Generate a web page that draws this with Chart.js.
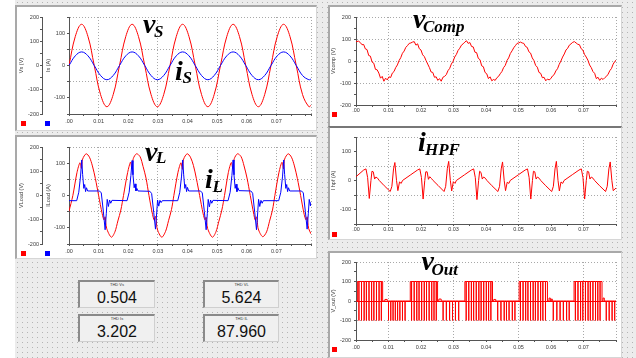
<!DOCTYPE html>
<html><head><meta charset="utf-8">
<script src="https://cdn.jsdelivr.net/npm/chart.js@4.4.1/dist/chart.umd.min.js"></script>
<style>
html,body{margin:0;padding:0}
body{width:636px;height:358px;position:relative;overflow:hidden;background:#ececec;font-family:'Liberation Sans',Arial,sans-serif}
#bg{position:absolute;left:15px;top:0;width:621px;height:358px}
.strip{position:absolute;left:0;top:0;width:15px;height:358px;background:#fff}
.frame{position:absolute;background:#fff;box-sizing:border-box;border-left:2px solid #a9a9a9;border-top:2px solid #a9a9a9;border-right:1px solid #d6d6d6;border-bottom:1px solid #d6d6d6}
canvas{position:absolute}
.sq{position:absolute;width:5px;height:5px}
.thd{position:absolute;height:28px;box-sizing:border-box;background:#f0f0f0;border-top:2px solid #8a8a8a;border-left:2px solid #8a8a8a;border-right:1px solid #cfcfcf;border-bottom:1px solid #cfcfcf}
.thd .cap{position:absolute;left:0;right:0;top:0;text-align:center;font-size:4px;color:#333;line-height:5px}
.thd .val{position:absolute;left:0;right:0;top:7px;text-align:center;font-size:16px;color:#111;line-height:18px}
.lbl{position:absolute;font-family:'Liberation Serif','Times New Roman',serif;font-style:italic;font-weight:bold;color:#000;line-height:1;white-space:nowrap}
</style></head>
<body>
<div id="bg"></div>
<div class="strip"></div>

<div class="frame" style="left:15px;top:5px;width:302px;height:126px"></div>
<div class="frame" style="left:15px;top:135px;width:302px;height:124px"></div>
<div class="frame" style="left:328px;top:5px;width:294px;height:122px"></div>
<div class="frame" style="left:328px;top:126px;width:294px;height:114px;border-top-color:#777"></div>
<div class="frame" style="left:328px;top:251px;width:294px;height:107px"></div>

<canvas id="c1" width="299" height="123" style="left:17px;top:7px"></canvas>
<canvas id="c2" width="299" height="123" style="left:17px;top:137px"></canvas>
<canvas id="c3" width="290" height="117" style="left:330px;top:8px"></canvas>
<canvas id="c4" width="290" height="110" style="left:330px;top:129px"></canvas>
<canvas id="c5" width="290" height="103" style="left:330px;top:253px"></canvas>

<div class="sq" style="left:21px;top:121px;background:#f00"></div>
<div class="sq" style="left:45px;top:121px;background:#00f"></div>
<div class="sq" style="left:21px;top:251px;background:#f00"></div>
<div class="sq" style="left:45px;top:251px;background:#00f"></div>
<div class="sq" style="left:332px;top:112px;background:#f00"></div>
<div class="sq" style="left:332px;top:232px;background:#f00"></div>
<div class="sq" style="left:332px;top:347px;background:#f00"></div>

<div class="thd" style="left:78px;top:280px;width:77px"><div class="cap">THD Vs</div><div class="val">0.504</div></div>
<div class="thd" style="left:78px;top:314px;width:77px"><div class="cap">THD Is</div><div class="val">3.202</div></div>
<div class="thd" style="left:203px;top:280px;width:76px"><div class="cap">THD VL</div><div class="val">5.624</div></div>
<div class="thd" style="left:203px;top:314px;width:76px"><div class="cap">THD IL</div><div class="val">87.960</div></div>

<div class="lbl" style="left:143px;top:9.9px;font-size:28px">v</div>
<div class="lbl" style="left:154px;top:23.1px;font-size:17px">S</div>
<div class="lbl" style="left:175px;top:56.6px;font-size:28px">i</div>
<div class="lbl" style="left:182.5px;top:69.1px;font-size:17px">S</div>
<div class="lbl" style="left:145px;top:138.3px;font-size:28px">v</div>
<div class="lbl" style="left:156px;top:149.1px;font-size:17px">L</div>
<div class="lbl" style="left:205px;top:164.9px;font-size:28px">i</div>
<div class="lbl" style="left:212.5px;top:177.5px;font-size:17px">L</div>
<div class="lbl" style="left:413px;top:4.9px;font-size:28px">v</div>
<div class="lbl" style="left:423px;top:17.8px;font-size:17px">Comp</div>
<div class="lbl" style="left:418px;top:128.3px;font-size:28px">i</div>
<div class="lbl" style="left:425px;top:140.8px;font-size:17px">HPF</div>
<div class="lbl" style="left:421.5px;top:246.6px;font-size:28px">v</div>
<div class="lbl" style="left:431.5px;top:260.8px;font-size:17px">Out</div>

<script>
// ---------- DATA ----------
// Panel 1: source voltage (V) and source current (A)
const t1 = [0,0.00213,0.00426,0.00639,0.00852,0.01066,0.01279,0.01492,0.01705,0.01918,0.02131,0.02344,0.02557,0.02770,0.02983,0.03197,0.03410,0.03623,0.03836,0.04049,0.04262,0.04475,0.04688,0.04901,0.05114,0.05328,0.05541,0.05754,0.05967,0.06180,0.06393,0.06606,0.06819,0.07032,0.07245,0.07459,0.07672,0.07885,0.08098,0.0817];
const vs = [0,120,170,120,0,-120,-170,-120, 0,120,170,120,0,-120,-170,-120, 0,120,170,120,0,-120,-170,-120, 0,120,170,120,0,-120,-170,-120, 0,120,170,120,0,-120,-170,-164];
const is = [0,30,42,30,0,-31,-44,-31, 0,30,42,30,0,-31,-44,-31, 0,30,42,30,0,-31,-44,-31, 0,30,42,30,0,-31,-44,-31, 0,30,42,30,0,-31,-44,-42];

// Panel 2: load voltage (V) and load current (A)
const vlT = [0,0.0013,0.0027,0.0037,0.0042,0.0046,0.0058,0.0069,0.0079,0.0089,0.0100,0.0112,0.0118,0.0122,0.0127,0.0143,0.0155,0.0165,0.0175,
0.0184,0.0198,0.0208,0.0212,0.0217,0.0228,0.0240,0.0250,0.0260,0.0270,0.0282,0.0288,0.0293,0.0298,0.0313,0.0326,0.0336,0.0346,
0.0354,0.0368,0.0378,0.0383,0.0387,0.0399,0.0410,0.0420,0.0430,0.0441,0.0453,0.0459,0.0463,0.0468,0.0484,0.0496,0.0506,0.0516,
0.0525,0.0538,0.0548,0.0553,0.0558,0.0569,0.0581,0.0591,0.0601,0.0612,0.0624,0.0629,0.0634,0.0639,0.0654,0.0667,0.0677,0.0687,
0.0695,0.0709,0.0719,0.0724,0.0728,0.0740,0.0751,0.0761,0.0771,0.0782,0.0794,0.0800,0.0804,0.0809,0.0817];
const vlV = [-65,0,95,135,112,150,172,158,122,70,0,-75,-100,-88,-135,-172,-150,-105,-60,
0,95,138,110,152,172,160,120,72,0,-78,-102,-86,-138,-172,-148,-104,-58,
0,96,135,108,150,172,158,124,70,0,-76,-100,-90,-136,-172,-150,-106,-60,
0,95,136,112,152,172,160,122,72,0,-78,-102,-88,-138,-170,-150,-106,-60,
0,96,137,110,150,172,158,122,70,0,-78,-100,-88,-136,-158];
const ilT = [0,0.0026,0.0033,0.0039,0.0043,0.0046,0.0050,0.0053,0.0056,0.0059,0.0063,0.0103,0.0109,0.0116,0.0122,0.0126,0.0129,0.0133,0.0137,0.0141,0.0145,
0.0196,0.0203,0.0209,0.0213,0.0216,0.0220,0.0223,0.0226,0.0229,0.0233,0.0273,0.0279,0.0286,0.0292,0.0296,0.0299,0.0303,0.0307,0.0311,0.0315,
0.0367,0.0374,0.0380,0.0384,0.0387,0.0391,0.0394,0.0397,0.0400,0.0404,0.0444,0.0450,0.0457,0.0463,0.0467,0.0470,0.0474,0.0478,0.0482,0.0486,
0.0537,0.0544,0.0550,0.0554,0.0557,0.0561,0.0564,0.0567,0.0570,0.0574,0.0614,0.0620,0.0627,0.0633,0.0637,0.0640,0.0644,0.0648,0.0652,0.0656,
0.0708,0.0715,0.0721,0.0725,0.0728,0.0732,0.0735,0.0738,0.0741,0.0745,0.0785,0.0791,0.0798,0.0804,0.0808,0.0811,0.0815,0.0817];
const ilV = [-16,-16,10,60,110,65,22,34,12,24,14,14,8,-50,-106,-55,-12,-34,-14,-24,-15,
-16,10,62,108,64,24,36,14,22,14,13,6,-52,-104,-54,-14,-33,-15,-22,-16,
-16,10,60,110,66,22,34,12,25,14,14,8,-50,-106,-56,-12,-35,-14,-24,-15,
-16,10,62,110,64,22,35,12,24,15,14,7,-52,-106,-54,-12,-34,-15,-24,-16,
-16,10,60,110,65,22,34,12,24,14,14,8,-50,-104,-55,-12,-32,-20];

// Panel 3: compensating voltage (V), sampled every vcDt from vcT0 (plus start / end values)
const vcStart = 88, vcEnd = 4, vcT0 = 0.0008, vcDt = 0.00051875;
const vcV = [
90,84,74,75,55,52,25,22,-5,-10,-38,-40,-55,-78,-70,-92,-78,-86,-72,-75,-55,-48,-30,-18,2,15,35,45,62,70,80,82,
86,88,72,78,56,50,28,20,2,-14,-30,-50,-52,-74,-72,-88,-80,-92,-74,-70,-62,-44,-34,-14,-2,18,30,48,58,72,78,86,
92,80,84,66,64,40,38,12,6,-22,-26,-52,-58,-80,-72,-90,-84,-88,-76,-70,-58,-48,-30,-20,2,14,34,46,60,70,80,82,
86,82,80,66,62,42,36,14,2,-20,-28,-52,-56,-76,-74,-90,-82,-86,-80,-68,-62,-45,-35,-15,0,18,32,50,58,72,78,85,
88,82,76,74,56,50,30,18,4,-18,-30,-48,-56,-80,-74,-88,-78,-84,-76,-70,-60,-44,-34,-14,-2];

// Panel 4: high-pass filter current (A)
const ihT = [0,0.00235,0.00307,0.00358,0.00409,0.00460,0.00491,0.00532,0.00573,0.00613,0.00665,0.00716,0.00869,0.01053,0.01104,0.01155,0.01196,0.01247,0.01288,0.01339,0.01391,0.01431,0.01687,
0.01891,0.01963,0.02014,0.02065,0.02116,0.02147,0.02188,0.02229,0.02269,0.02321,0.02372,0.02525,0.02709,0.02760,0.02811,0.02852,0.02903,0.02944,0.02995,0.03047,0.03087,0.03343,
0.03548,0.03620,0.03671,0.03722,0.03773,0.03804,0.03845,0.03886,0.03926,0.03978,0.04029,0.04182,0.04366,0.04417,0.04468,0.04509,0.04560,0.04601,0.04652,0.04704,0.04744,0.05000,
0.05204,0.05276,0.05327,0.05378,0.05429,0.05460,0.05501,0.05542,0.05582,0.05634,0.05685,0.05838,0.06022,0.06073,0.06124,0.06165,0.06216,0.06257,0.06308,0.06360,0.06400,0.06656,
0.06861,0.06933,0.06984,0.07035,0.07086,0.07117,0.07158,0.07199,0.07239,0.07291,0.07342,0.07495,0.07679,0.07730,0.07781,0.07822,0.07873,0.07914,0.0800];
const ihV = [13,36,40,10,-62,0,32,30,5,12,8,0,-18,-38,-20,40,62,0,-35,-5,-10,0,20,
36,40,10,-64,0,30,30,4,13,7,0,-17,-38,-20,42,66,0,-36,-4,-10,0,20,
36,40,10,-66,0,32,28,5,12,8,0,-18,-38,-20,40,64,0,-35,-6,-10,0,20,
36,40,10,-64,0,32,30,5,12,8,0,-18,-38,-20,40,66,0,-36,-5,-10,0,20,
36,40,10,-64,0,32,30,5,12,8,0,-18,-38,-20,40,64,0,-35,-26];

// Panel 5: inverter output voltage switching events (time, level held from that time on)
const voT = [0,
0.0005,0.0009,0.0009,0.0017,0.0017,0.0025,0.0025,0.0032,0.0032,0.0040,0.0040,0.0048,0.0048,0.0055,0.0055,0.0063,0.0063,0.0071,0.0071,0.0078,0.0078,0.0082,
0.0089,0.0096,
0.0100,0.0100,0.0107,0.0107,0.0114,0.0114,0.0121,0.0121,0.0128,0.0128,0.0135,0.0135,0.0143,0.0143,0.0151,0.0151,
0.0167,0.0171,0.0171,0.0179,0.0179,0.0187,0.0187,0.0194,0.0194,0.0202,0.0202,0.0210,0.0210,0.0217,0.0217,0.0225,0.0225,0.0233,0.0233,0.0240,0.0240,0.0247,0.0247,0.0251,
0.0255,0.0262,
0.0268,0.0268,0.0278,0.0278,0.0288,0.0288,0.0297,0.0297,0.0306,0.0306,0.0316,0.0316,
0.0335,0.0339,0.0339,0.0347,0.0347,0.0355,0.0355,0.0362,0.0362,0.0370,0.0370,0.0378,0.0378,0.0385,0.0385,0.0393,0.0393,0.0401,0.0401,0.0408,0.0408,0.0415,0.0415,0.0420,
0.0424,0.0430,
0.0436,0.0436,0.0446,0.0446,0.0456,0.0456,0.0463,0.0463,0.0471,0.0471,0.0481,0.0481,0.0489,0.0489,
0.0502,0.0506,0.0506,0.0514,0.0514,0.0522,0.0522,0.0529,0.0529,0.0537,0.0537,0.0545,0.0545,0.0552,0.0552,0.0560,0.0560,0.0568,0.0568,0.0575,0.0575,0.0583,0.0583,0.0589,
0.0594,0.0598,0.0601,0.0604,
0.0607,0.0607,0.0618,0.0618,0.0628,0.0628,0.0638,0.0638,0.0648,0.0648,0.0656,0.0656,
0.0671,0.0675,0.0675,0.0683,0.0683,0.0691,0.0691,0.0698,0.0698,0.0706,0.0706,0.0714,0.0714,0.0721,0.0721,0.0729,0.0729,0.0737,0.0737,0.0744,0.0744,0.0751,0.0751,0.0757,
0.0760,0.0764,
0.0770,0.0770,0.0779,0.0779,0.0788,0.0788,0.0796,0.0796,
0.0800];
const voV = [0,
100,-100,100,-100,100,-100,100,-100,100,-100,100,-100,100,-100,100,-100,100,-100,100,-100,100,0,
8,0,
-100,0,-100,0,-100,0,-100,0,-100,0,-100,0,-100,0,-100,0,
100,-100,100,-100,100,-100,100,-100,100,-100,100,-100,100,-100,100,-100,100,-100,100,-100,100,-100,100,0,
10,0,
-100,0,-100,0,-100,0,-100,0,-100,0,-100,0,
100,-100,100,-100,100,-100,100,-100,100,-100,100,-100,100,-100,100,-100,100,-100,100,-100,100,-100,100,0,
8,0,
-100,0,-100,0,-100,0,-100,0,-100,0,-100,0,-100,0,
100,-100,100,-100,100,-100,100,-100,100,-100,100,-100,100,-100,100,-100,100,-100,100,-100,100,-100,100,0,
15,0,10,0,
-100,0,-100,0,-100,0,-100,0,-100,0,-100,0,
100,-100,100,-100,100,-100,100,-100,100,-100,100,-100,100,-100,100,-100,100,-100,100,-100,100,-100,100,0,
15,0,
-100,0,-100,0,-100,0,-100,0,
0];

// Axis ranges / titles
const xMaxLeft = 0.0817, xMaxRight = 0.0800;
const yTitles = {vs:'Vs (V)', is:'Is (A)', vl:'VLoad (V)', il:'ILoad (A)', vc:'Vcomp (V)', ih:'I hpf (A)', vo:'V_out (V)'};

// ---------- STYLE / HELPERS ----------
(function(){const c=document.createElement('canvas');c.width=5;c.height=5;const g=c.getContext('2d');
g.fillStyle='#ececec';g.fillRect(0,0,5,5);g.fillStyle='#b4b4b4';g.fillRect(2,2,1,1);
document.getElementById('bg').style.backgroundImage='url('+c.toDataURL()+')';})();

const TF = {family:"'Liberation Sans', Arial, sans-serif", size:5.5};
const AX = '#555555', GR = '#a8a8a8', TX = '#3a3a3a', NONE = 'rgba(0,0,0,0)';
const RED = 'rgb(255,0,0)', BLUE = 'rgb(0,0,255)';
const pts = (T,V) => T.map((t,i)=>({x:t,y:V[i]}));
const vcPts = [{x:0,y:vcStart}].concat(vcV.map((v,i)=>({x:vcT0+i*vcDt,y:v})), [{x:xMaxRight,y:vcEnd}]);

function xScale(max, pad, h){
  return {
    type:'linear', min:0, max:max,
    afterBuildTicks(s){ const a=[]; for(let k=0;k*5<max*1000-0.5;k++) a.push({value:k*0.005}); a.push({value:max}); s.ticks=a; },
    afterFit(s){ s.height=h; },
    grid:{ color(c){ const v=c.tick.value; if(Math.abs(v-max)<1e-9) return GR; const m=Math.round(v*1000); return (m%20===10)?GR:NONE; },
           lineWidth:1, tickLength:2, tickColor:AX },
    border:{display:true,color:AX,width:1,dash:[1,2]},
    ticks:{ autoSkip:false, maxRotation:0, minRotation:0, padding:pad, color:TX, font:TF,
      callback(v){ const m=Math.round(v*1000); if(m%10!==0||m>70||Math.abs(v-max)<1e-9) return ''; return m===0?'.00':v.toFixed(2); } }
  };
}
function yScale(o){
  return {
    type:'linear', position:'left', min:o.min, max:o.max, weight:o.weight||0,
    afterFit(s){ s.width=o.width; },
    ticks:{ stepSize:50, autoSkip:false, padding:o.pad, color:TX, font:TF,
      callback(v){ return o.labels.includes(v)?String(v):''; } },
    grid:{ drawOnChartArea:o.area,
      color(c){ const v=c.tick.value; if(o.zero && v===0) return RED; return o.grid.includes(v)?GR:NONE; },
      lineWidth:1, tickLength:2, tickColor:AX },
    border:{display:true,color:AX,width:1,
      dash(c){ return (o.zero && c.tick && c.tick.value===0)?[]:[1,2]; } },
    title:{display:true,text:o.title,color:TX,font:TF,padding:{top:o.tpad,bottom:0}}
  };
}
function mk(id, datasets, scales, padding){
  return new Chart(document.getElementById(id), {
    type:'line', data:{datasets},
    options:{ responsive:false, animation:false, devicePixelRatio:1, events:[],
      layout:{padding},
      plugins:{legend:{display:false}, tooltip:{enabled:false}},
      elements:{point:{radius:0}, line:{borderWidth:1}},
      scales }
  });
}
const L200 = [-200,-100,0,100,200], L100 = [-100,0,100];

// Panel 1
mk('c1', [
  {data:pts(t1,is), borderColor:BLUE, yAxisID:'y', tension:0.4},
  {data:pts(t1,vs), borderColor:RED, yAxisID:'y2', tension:0.4}
], {
  x: xScale(xMaxLeft, 2, 16),
  y: yScale({min:-150,max:150,labels:L100,grid:[-50,50,150],width:27,pad:2,area:true,title:yTitles.is,tpad:2.7,weight:0}),
  y2: yScale({min:-200,max:200,labels:L200,grid:[],width:25,pad:1,area:false,title:yTitles.vs,tpad:0.7,weight:1})
}, {top:10,right:5,left:0,bottom:0});

// Panel 2
mk('c2', [
  {data:pts(ilT,ilV), borderColor:BLUE, yAxisID:'y', tension:0},
  {data:pts(vlT,vlV), borderColor:RED, yAxisID:'y2', tension:0.3}
], {
  x: xScale(xMaxLeft, 2, 16),
  y: yScale({min:-150,max:150,labels:L100,grid:[-50,50,150],width:27,pad:2,area:true,title:yTitles.il,tpad:2.7,weight:0}),
  y2: yScale({min:-200,max:200,labels:L200,grid:[],width:25,pad:1,area:false,title:yTitles.vl,tpad:0.7,weight:1})
}, {top:10,right:5,left:0,bottom:0});

// Panel 3
mk('c3', [
  {data:vcPts, borderColor:RED, tension:0}
], {
  x: xScale(xMaxRight, 0, 20),
  y: yScale({min:-200,max:200,labels:L200,grid:[-100,0,100,200],width:26,pad:3,area:true,title:yTitles.vc,tpad:0,weight:0})
}, {top:9,right:4,left:0,bottom:0});

// Panel 4
mk('c4', [
  {data:pts(ihT,ihV), borderColor:RED, tension:0}
], {
  x: xScale(xMaxRight, 0, 15),
  y: yScale({min:-150,max:150,labels:L100,grid:[-50,50,150],width:26,pad:3,area:true,title:yTitles.ih,tpad:0,weight:0})
}, {top:8,right:4,left:0,bottom:0});

// Panel 5
mk('c5', [
  {data:pts(voT,voV), borderColor:RED, stepped:true, tension:0}
], {
  x: xScale(xMaxRight, 2, 16),
  y: yScale({min:-200,max:200,labels:L200,grid:[-100,100,200],zero:true,width:26,pad:3,area:true,title:yTitles.vo,tpad:0,weight:0})
}, {top:9,right:4,left:0,bottom:0});
</script>
</body></html>
